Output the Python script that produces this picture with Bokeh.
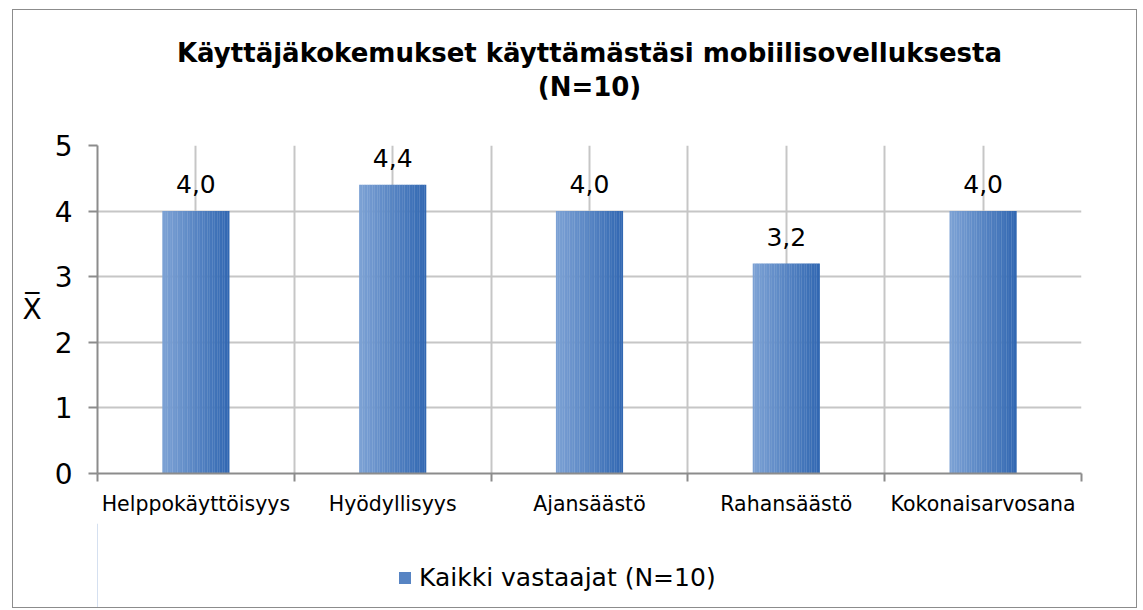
from bokeh.plotting import figure
from bokeh.layouts import column
from bokeh.models import Range1d, FixedTicker, Legend, LegendItem, Title, ColumnDataSource
from bokeh.core.properties import value
from bokeh.embed import file_html
from bokeh.resources import INLINE

categories = ["Helppokäyttöisyys", "Hyödyllisyys", "Ajansäästö", "Rahansäästö", "Kokonaisarvosana"]
values = [4.0, 4.4, 4.0, 3.2, 4.0]
series_name = "Kaikki vastaajat (N=10)"
y_ticks = [0, 1, 2, 3, 4, 5]
title_line1 = "Käyttäjäkokemukset käyttämästäsi mobiilisovelluksesta"
title_line2 = "(N=10)"

FONT = "DejaVu Sans"
FW, FH = 984, 328
ML, MR = 84, 55

p = figure(frame_width=FW, frame_height=FH, output_backend="svg", toolbar_location=None,
           x_range=Range1d(0, len(categories)), y_range=Range1d(0, 5),
           min_border_left=ML, min_border_right=MR, min_border_top=135, min_border_bottom=50)
p.outline_line_color = None
p.background_fill_color = "white"
p.border_fill_color = "white"

# title: two centred lines (a trailing blank line lifts the block away from the frame)
p.title = None
t = Title(text=title_line1 + "\n" + title_line2 + "\n ", align="center", text_align="center",
          text_font=FONT, text_font_size="26px", text_font_style="bold", text_color="black",
          text_line_height=1.15, standoff=18, offset=12)
p.add_layout(t, "above")

# gradient bars built from slices
bar_w = 0.34
N = 40
c0 = (124, 161, 212)
c1 = (50, 104, 178)
xs = [i + 0.5 for i in range(len(categories))]
for k in range(N):
    f = k / (N - 1)
    col = "#%02x%02x%02x" % tuple(int(round(a + (b - a) * f)) for a, b in zip(c0, c1))
    off = -bar_w / 2 + (k + 0.5) * bar_w / N
    src = ColumnDataSource(dict(x=[x + off for x in xs], top=values))
    p.vbar(x="x", top="top", width=bar_w / N * 1.15, bottom=0, source=src,
           fill_color=col, line_color=None, fill_alpha=1.0)

# data labels
labels = [f"{v:.1f}".replace(".", ",") for v in values]
p.text(x=xs, y=values, text=labels, text_align="center", text_baseline="alphabetic",
       y_offset=-27, text_font=value(FONT), text_font_size="25px", text_color="black")

# axes
p.xaxis.ticker = FixedTicker(ticks=xs, minor_ticks=list(range(len(categories) + 1)))
p.xaxis.major_label_overrides = {x: c for x, c in zip(xs, categories)}
p.xaxis.major_tick_out = 0
p.xaxis.major_tick_in = 0
p.xaxis.minor_tick_out = 8
p.xaxis.minor_tick_in = 0
p.xaxis.minor_tick_line_color = "#8c8c8c"
p.xaxis.minor_tick_line_width = 2
p.xaxis.major_label_text_font = FONT
p.xaxis.major_label_text_font_size = "20.5px"
p.xaxis.major_label_text_color = "black"
p.xaxis.major_label_standoff = 10
p.xaxis.axis_line_color = "#8c8c8c"
p.xaxis.axis_line_width = 2

p.yaxis.ticker = FixedTicker(ticks=y_ticks)
p.yaxis.minor_tick_line_color = None
p.yaxis.major_tick_out = 9
p.yaxis.major_tick_in = 0
p.yaxis.major_tick_line_color = "#8c8c8c"
p.yaxis.major_tick_line_width = 2
p.yaxis.major_label_text_font = FONT
p.yaxis.major_label_text_font_size = "28px"
p.yaxis.major_label_text_color = "black"
p.yaxis.major_label_standoff = 16
p.yaxis.axis_line_color = "#8c8c8c"
p.yaxis.axis_line_width = 2
p.yaxis.axis_label = "X\u0305"
p.yaxis.axis_label_orientation = "horizontal"
p.yaxis.axis_label_text_font = FONT
p.yaxis.axis_label_text_font_size = "28px"
p.yaxis.axis_label_text_font_style = "normal"
p.yaxis.axis_label_text_color = "black"
p.yaxis.axis_label_standoff = 10

# grids
p.xgrid.ticker = FixedTicker(ticks=xs, minor_ticks=list(range(len(categories) + 1)))
p.xgrid.grid_line_color = "#c6c6c6"
p.xgrid.grid_line_width = 2
p.xgrid.minor_grid_line_color = "#c6c6c6"
p.xgrid.minor_grid_line_width = 2
p.ygrid.ticker = FixedTicker(ticks=y_ticks)
p.ygrid.grid_line_color = "#c6c6c6"
p.ygrid.grid_line_width = 2

# legend strip below the chart
LH = 84
q = figure(frame_width=ML + FW + MR, frame_height=LH, output_backend="svg", toolbar_location=None,
           x_range=Range1d(0, 1), y_range=Range1d(0, 1),
           min_border_left=0, min_border_right=0, min_border_top=0, min_border_bottom=0)
q.axis.visible = False
q.grid.visible = False
q.outline_line_color = None
q.background_fill_color = "white"
q.border_fill_color = "white"
mid_col = "#%02x%02x%02x" % tuple((a + b) // 2 for a, b in zip(c0, c1))
# key glyph for the legend (its single bar lies outside this strip's visible range)
key = q.vbar(x=[-5], top=[values[0]], width=0.1, fill_color=mid_col, line_color=None)
legend = Legend(items=[LegendItem(label=series_name, renderers=[key])],
                orientation="horizontal", location=(384, 15),
                label_text_font=FONT, label_text_font_size="25px", label_text_color="black",
                glyph_width=15, glyph_height=15, border_line_color=None,
                background_fill_alpha=0, margin=0, padding=0, label_standoff=7)
q.add_layout(legend, "center")

layout = column(p, q, spacing=0)
layout.styles = {"border": "1px solid #8c8c8c", "margin-left": "12px", "margin-top": "9px"}

open("out.html", "w").write(file_html(layout, INLINE))
